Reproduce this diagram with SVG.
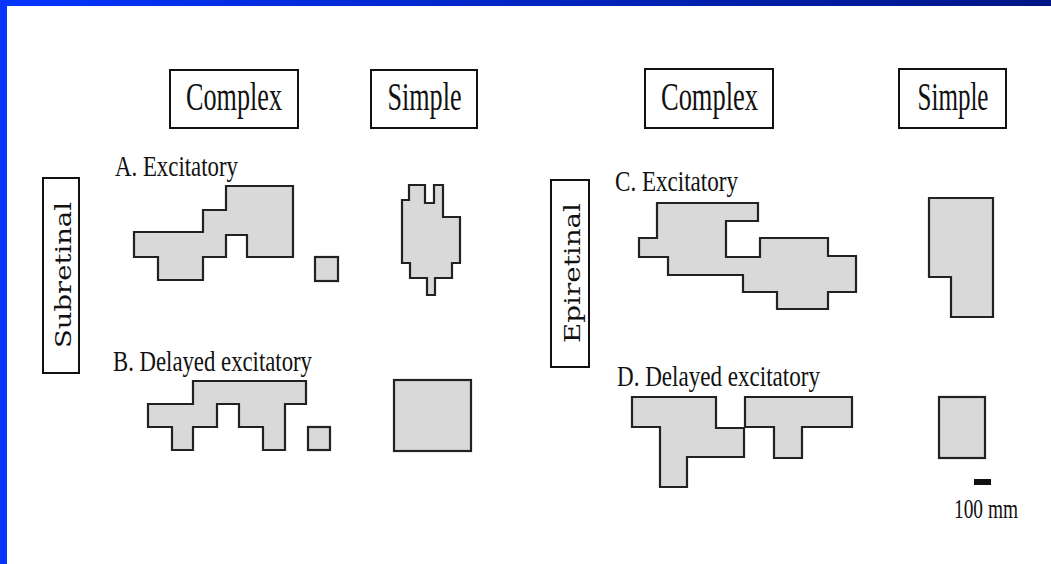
<svg xmlns="http://www.w3.org/2000/svg" width="1051" height="564" viewBox="0 0 1051 564">
  <defs>
    <linearGradient id="barGrad" x1="0" y1="0" x2="1" y2="0">
      <stop offset="0" stop-color="#0535ff"/>
      <stop offset="1" stop-color="#001585"/>
    </linearGradient>
    <style>
      .box{fill:#fff;stroke:#111;stroke-width:2}
      .field{fill:#d9d9d9;stroke:#222;stroke-width:2.2;stroke-linejoin:miter}
      .hd{font-family:"Liberation Serif",serif;font-size:39px;fill:#111;text-anchor:middle}
      .lbl{font-family:"Liberation Serif",serif;font-size:30px;fill:#111}
      .side{font-family:"DejaVu Serif",serif;font-size:22px;fill:#111;text-anchor:middle}
      .scale{font-family:"Liberation Serif",serif;font-size:27px;fill:#111}
    </style>
  </defs>

  <!-- page frame -->
  <rect x="0" y="0" width="1051" height="564" fill="#fff"/>
  <rect x="0" y="0" width="1051" height="6" fill="url(#barGrad)"/>
  <rect x="0" y="0" width="7" height="564" fill="#0535ff"/>

  <!-- column headers -->
  <g id="hdr-complex-sub">
    <rect class="box" x="170" y="70" width="128" height="58"/>
    <text class="hd" x="234" y="110" textLength="96" lengthAdjust="spacingAndGlyphs">Complex</text>
  </g>
  <g id="hdr-simple-sub">
    <rect class="box" x="371" y="70" width="106" height="58"/>
    <text class="hd" x="424.5" y="110" textLength="74" lengthAdjust="spacingAndGlyphs">Simple</text>
  </g>
  <g id="hdr-complex-epi">
    <rect class="box" x="645" y="69" width="128" height="59"/>
    <text class="hd" x="709.5" y="110" textLength="97" lengthAdjust="spacingAndGlyphs">Complex</text>
  </g>
  <g id="hdr-simple-epi">
    <rect class="box" x="899" y="69" width="107" height="59"/>
    <text class="hd" x="953" y="110" textLength="71" lengthAdjust="spacingAndGlyphs">Simple</text>
  </g>

  <!-- row headers -->
  <g id="row-subretinal">
    <rect class="box" x="43" y="178" width="36" height="195"/>
    <text class="side" transform="translate(71 275) rotate(-90)" textLength="146" lengthAdjust="spacingAndGlyphs">Subretinal</text>
  </g>
  <g id="row-epiretinal">
    <rect class="box" x="551" y="180" width="38" height="187"/>
    <text class="side" transform="translate(580 273) rotate(-90)" textLength="140" lengthAdjust="spacingAndGlyphs">Epiretinal</text>
  </g>

  <!-- A: subretinal excitatory -->
  <g id="panel-a">
    <text class="lbl" x="115" y="176" textLength="123" lengthAdjust="spacingAndGlyphs">A. Excitatory</text>
    <polygon class="field" points="226,186 293,186 293,257 247,257 247,235 226,235 226,257 203,257 203,280 158,280 158,257 134,257 134,232 203,232 203,210 226,210"/>
    <rect class="field" x="315" y="257" width="23" height="24"/>
    <polygon class="field" points="409,185 425,185 425,203 434,203 434,185 443,185 443,217 460,217 460,263 452,263 452,278 435,278 435,295 427,295 427,278 410,278 410,263 402,263 402,200 409,200"/>
  </g>

  <!-- B: subretinal delayed excitatory -->
  <g id="panel-b">
    <text class="lbl" x="113" y="371" textLength="199" lengthAdjust="spacingAndGlyphs">B. Delayed excitatory</text>
    <polygon class="field" points="193,381 306,381 306,404 285,404 285,450 263,450 263,427 239,427 239,404 217,404 217,427 193,427 193,450 172,450 172,427 148,427 148,404 193,404"/>
    <rect class="field" x="308" y="427" width="22" height="23"/>
    <rect class="field" x="394" y="380" width="77" height="71"/>
  </g>

  <!-- C: epiretinal excitatory -->
  <g id="panel-c">
    <text class="lbl" x="615" y="191" textLength="123" lengthAdjust="spacingAndGlyphs">C. Excitatory</text>
    <polygon class="field" points="657,203 758,203 758,221 726,221 726,257 760,257 760,238 828,238 828,256 856,256 856,292 828,292 828,309 777,309 777,292 743,292 743,275 668,275 668,257 639,257 639,238 657,238"/>
    <polygon class="field" points="929,198 993,198 993,317 951,317 951,277 929,277"/>
  </g>

  <!-- D: epiretinal delayed excitatory -->
  <g id="panel-d">
    <text class="lbl" x="617" y="386" textLength="203" lengthAdjust="spacingAndGlyphs">D. Delayed excitatory</text>
    <polygon class="field" points="632,397 716,397 716,428 744,428 744,457 687,457 687,487 660,487 660,427 632,427"/>
    <polygon class="field" points="745,397 852,397 852,427 802,427 802,458 774,458 774,427 745,427"/>
    <rect class="field" x="939" y="397" width="46" height="61"/>
  </g>

  <!-- scale bar -->
  <g id="scale-bar">
    <rect x="974" y="479" width="17" height="6" fill="#111"/>
    <text class="scale" x="954" y="518" textLength="64" lengthAdjust="spacingAndGlyphs">100 mm</text>
  </g>

  <!-- no connectors in this figure -->
  <g id="connectors"/>
</svg>
